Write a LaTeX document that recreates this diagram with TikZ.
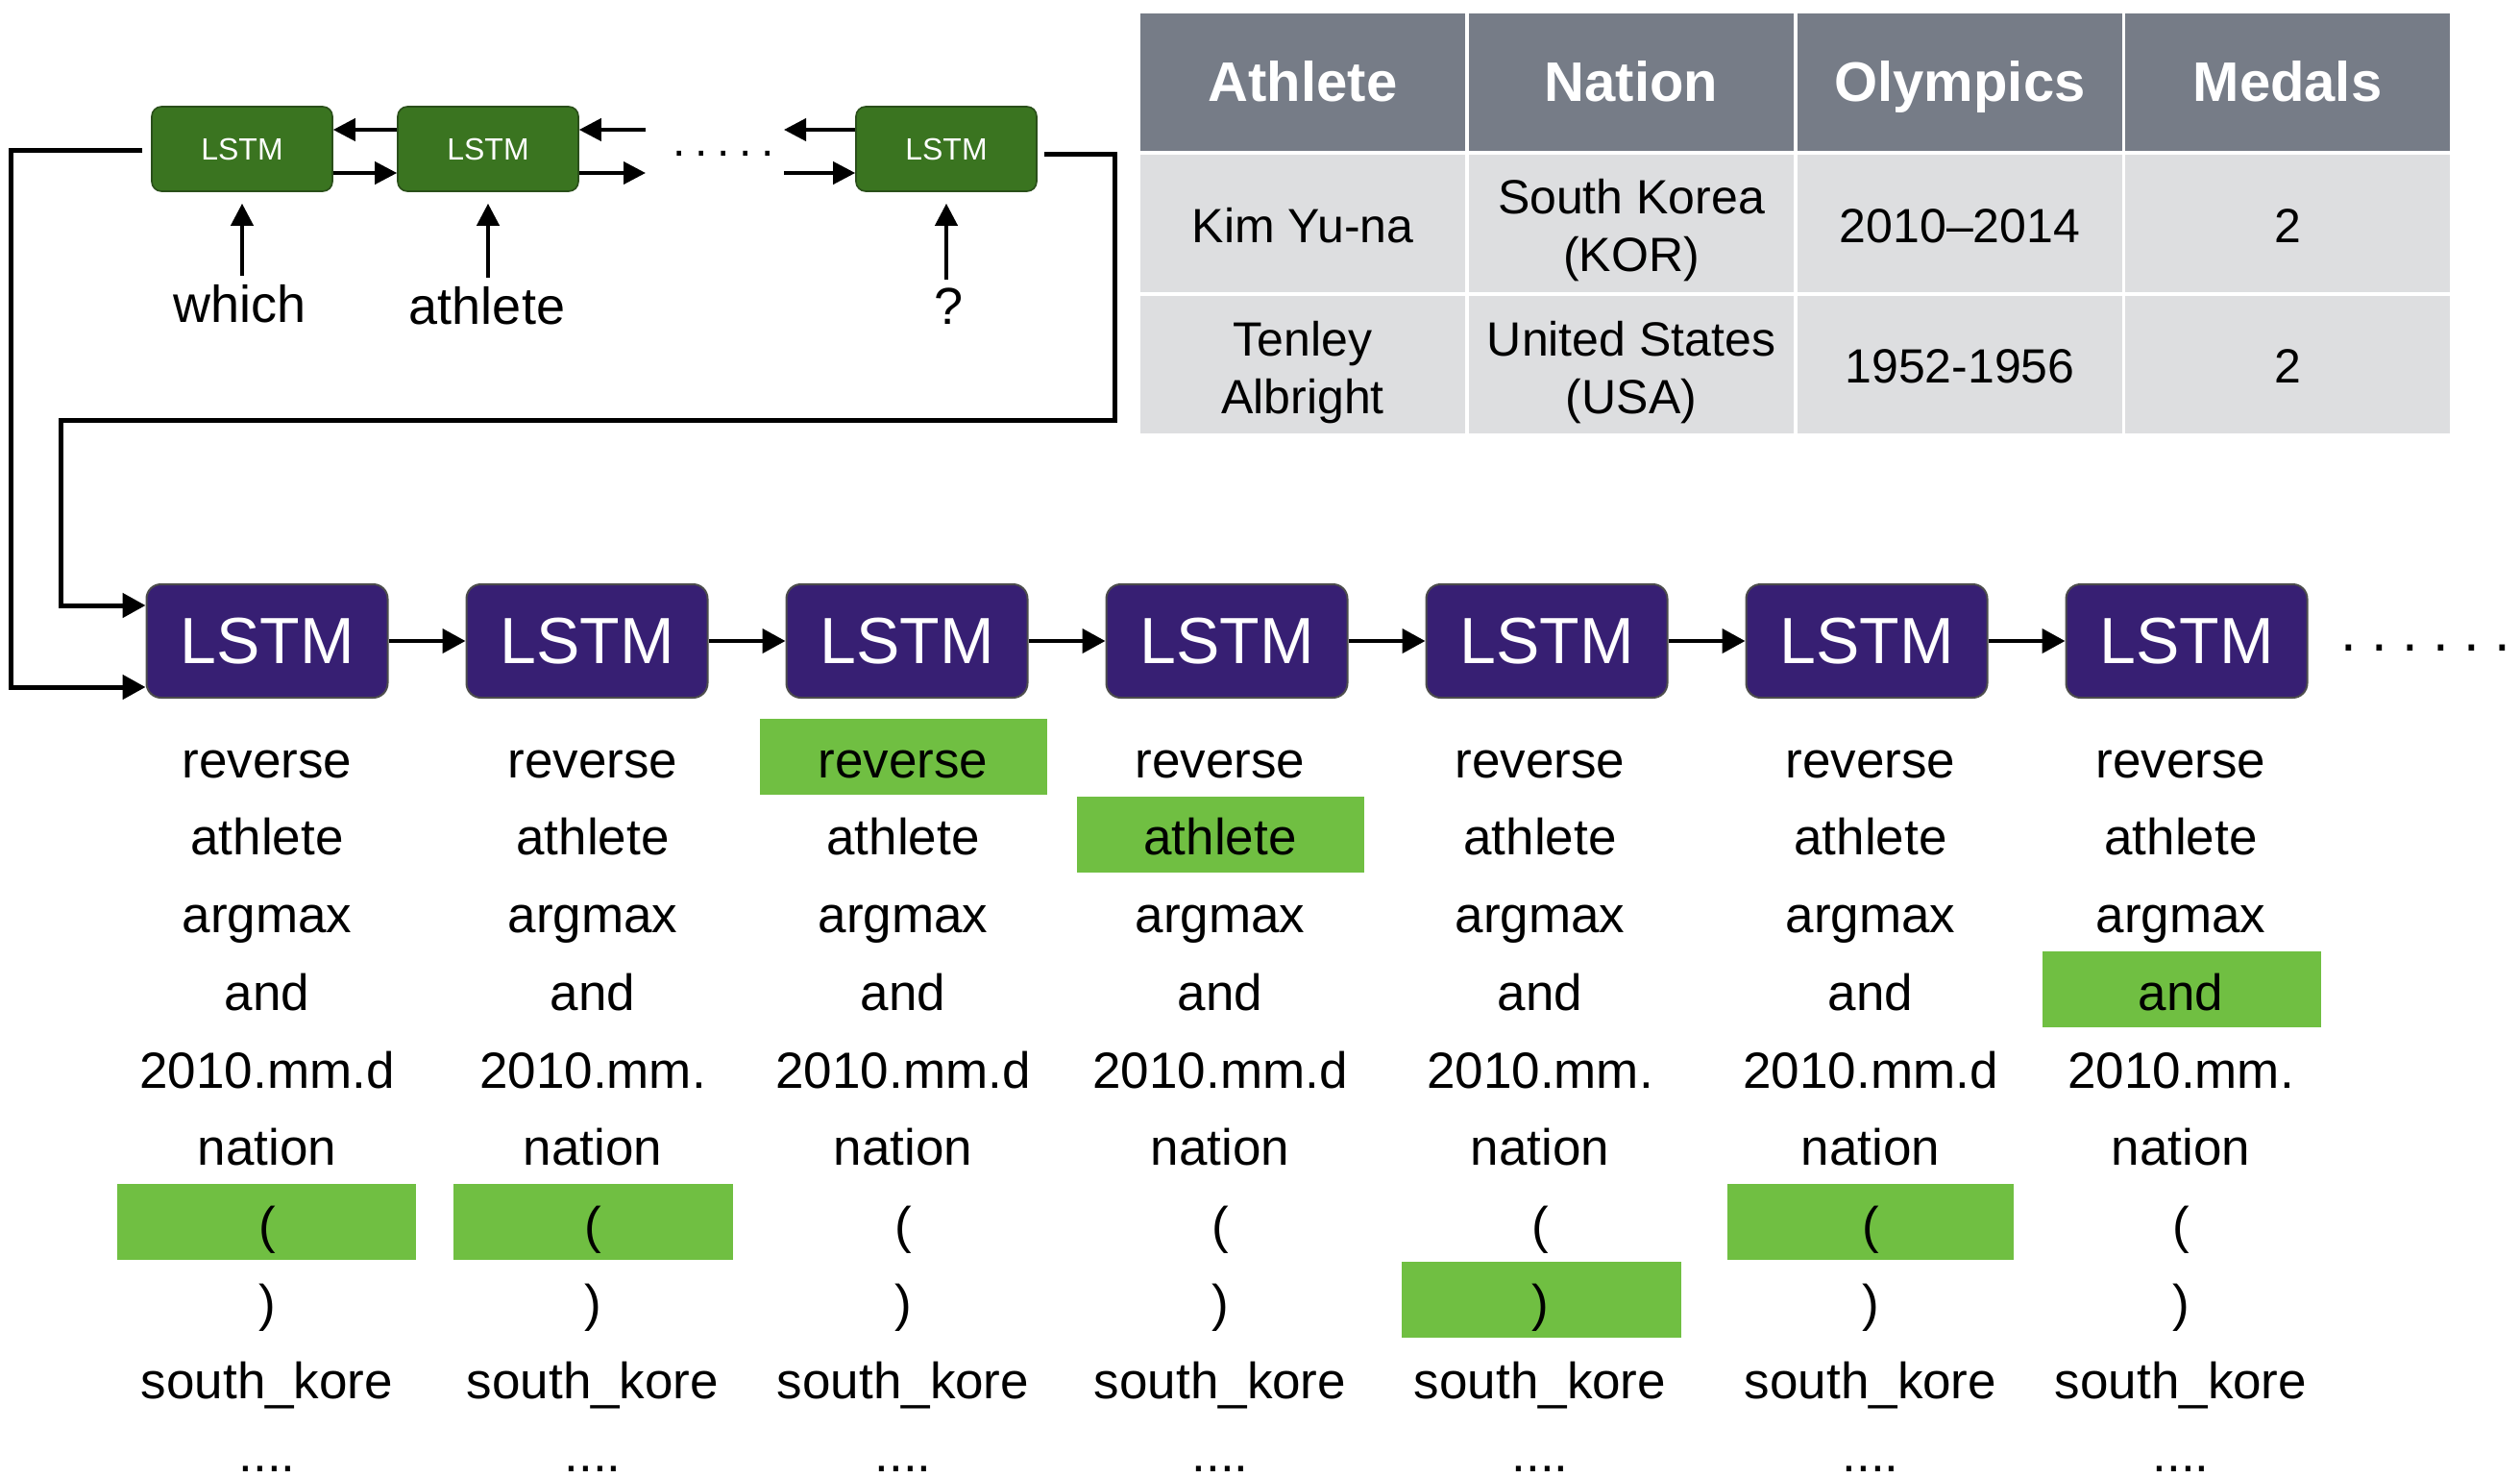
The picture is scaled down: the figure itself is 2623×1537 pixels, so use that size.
\documentclass[tikz,border=0pt]{standalone}
\usepackage{fontspec}
\setmainfont{Liberation Sans}
\usetikzlibrary{arrows.meta}
\definecolor{lstmpurple}{HTML}{371F73}
\definecolor{lstmgreen}{HTML}{3A7420}
\definecolor{lstmgreenb}{HTML}{2A4F1A}
\definecolor{hlgreen}{HTML}{70BF42}
\definecolor{thead}{HTML}{767C87}
\definecolor{tbody}{HTML}{DDDEE0}
\newcommand{\myfourdots}{....}
\begin{document}
\begin{tikzpicture}[x=0.5pt,y=-0.5pt,
  bigbox/.style={draw=black!70, line width=1pt, fill=lstmpurple, rounded corners=7.5pt, minimum width=125.5pt, minimum height=59pt, text=white, font=\fontsize{34}{34}\selectfont, inner sep=0pt},
  smallbox/.style={draw=lstmgreenb, line width=0.8pt, fill=lstmgreen, rounded corners=5pt, minimum width=94pt, minimum height=44pt, text=white, font=\fontsize{16}{16}\selectfont, inner sep=0pt},
  word/.style={anchor=base, inner sep=0pt, font=\fontsize{26.5}{30}\selectfont},
  qword/.style={anchor=base, inner sep=0pt, font=\fontsize{27}{30}\selectfont},
  hl/.style={fill=hlgreen, inner sep=0pt, minimum height=39.5pt},
  arr/.style={line width=2.2pt, -{Triangle[length=12pt,width=12.5pt]}},
  looparr/.style={line width=2.5pt, -{Triangle[length=12pt,width=12.5pt]}},
  sarr/.style={line width=2pt, -{Triangle[length=11.5pt,width=11.5pt]}},
  tcell/.style={draw=white, line width=1.5pt, minimum width=170.5pt, minimum height=73pt, inner sep=0pt},
  thtext/.style={anchor=base, inner sep=0pt, text=white, font=\bfseries\fontsize{29}{30}\selectfont},
  tdtext/.style={anchor=base, inner sep=0pt, font=\fontsize{25}{30}\selectfont},
]
\useasboundingbox (0,0) rectangle (2623,1537);

% ---- table ----
\foreach \k/\cx in {1/1356,2/1698,3/2040,4/2381}{
  \node[tcell, fill=thead] (th\k) at (\cx,85) {};
  \node[tcell, fill=tbody] (ra\k) at (\cx,232) {};
  \node[tcell, fill=tbody] (rb\k) at (\cx,379) {};
}
\node[thtext] (tht1) at (1356,105) {Athlete};
\node[thtext] (tht2) at (1698,105) {Nation};
\node[thtext] (tht3) at (2040,105) {Olympics};
\node[thtext] (tht4) at (2381,105) {Medals};
\node[tdtext] (t11) at (1356,252) {Kim Yu-na};
\node[tdtext] (t12a) at (1698,222) {South Korea};
\node[tdtext] (t12b) at (1698,282) {(KOR)};
\node[tdtext] (t13) at (2040,252) {2010--2014};
\node[tdtext] (t14) at (2381,252) {2};
\node[tdtext] (t21a) at (1356,370) {Tenley};
\node[tdtext] (t21b) at (1356,430) {Albright};
\node[tdtext] (t22a) at (1698,370) {United States};
\node[tdtext] (t22b) at (1698,430) {(USA)};
\node[tdtext] (t23) at (2040,398) {1952-1956};
\node[tdtext] (t24) at (2381,398) {2};

% ---- question encoder ----
\node[smallbox] (s1) at (252,155) {LSTM};
\node[smallbox] (s2) at (508,155) {LSTM};
\node[smallbox] (s3) at (985,155) {LSTM};
\coordinate (c1) at (672,135);
\coordinate (c2) at (672,180);
\coordinate (c3) at (816,135);
\coordinate (c4) at (816,180);
\draw[sarr] (s2.west |- c1) -- (s1.east |- c1);
\draw[sarr] (s1.east |- c2) -- (s2.west |- c2);
\draw[sarr] (c1) -- (s2.east |- c1);
\draw[sarr] (s2.east |- c2) -- (c2);
\draw[sarr] (s3.west |- c3) -- (c3);
\draw[sarr] (c4) -- (s3.west |- c4);
\node[anchor=base west, inner sep=0pt, font=\fontsize{24}{24}\selectfont] (tdots) at (700,162) {.\hspace{4.9pt}.\hspace{4.9pt}.\hspace{4.9pt}.\hspace{4.9pt}.};

\node[qword] (q1) at (250,335) {which};
\node[qword] (q2) at (507,337) {athlete};
\node[qword] (q3) at (988,337) {?};
\draw[sarr, shorten <=4pt, shorten >=6pt] (q1.north -| s1.south) -- (s1.south);
\draw[sarr, shorten <=4pt, shorten >=6pt] (q2.north -| s2.south) -- (s2.south);
\draw[sarr, shorten <=4pt, shorten >=6pt] (q3.north -| s3.south) -- (s3.south);

% ---- decoder ----
\foreach \i in {1,2,3,4,5,6,7}{
  \node[bigbox] (b\i) at ({278+333*(\i-1)},667) {LSTM};
}
\foreach \i/\j in {1/2,2/3,3/4,4/5,5/6,6/7}{
  \draw[arr] (b\i.east) -- (b\j.west);
}
\node[anchor=base west, inner sep=0pt, font=\fontsize{30}{30}\selectfont] (bdots) at (2436,677) {.\hspace{7.7pt}.\hspace{7.7pt}.\hspace{7.7pt}.\hspace{7.7pt}.\hspace{7.7pt}.};

% ---- loop connectors ----
\coordinate (la) at (11,156);
\coordinate (lb) at (11,715);
\draw[looparr] ([shift={(-9,1)}]s1.west) -- (la) -- (lb) -- (lb -| b1.west);
\coordinate (ra) at (1160,160);
\coordinate (rb) at (1160,437);
\coordinate (rc) at (63,437);
\coordinate (rd) at (63,630);
\draw[looparr] ([shift={(7,5)}]s3.east) -- (ra) -- (rb) -- (rc) -- (rd) -- (rd -| b1.west);

% ---- highlights ----
\node[hl, minimum width=149.5pt] (h3) at (940,787) {};
\node[hl, minimum width=149.5pt] (h4) at (1270,868) {};
\node[hl, minimum width=145pt] (h7) at (2271,1029) {};
\node[hl, minimum width=155.5pt] (h1) at (277,1271) {};
\node[hl, minimum width=145.5pt] (h2) at (617,1271) {};
\node[hl, minimum width=145.5pt] (h5) at (1604,1352) {};
\node[hl, minimum width=149pt] (h6) at (1947,1271) {};

% ---- word columns ----
\foreach \col/\xx/\dd in {1/278/{2010.mm.d}, 2/617/{2010.mm.}, 3/940/{2010.mm.d}, 4/1270/{2010.mm.d}, 5/1603/{2010.mm.}, 6/1947/{2010.mm.d}, 7/2270/{2010.mm.}}{
  \foreach \r/\w in {0/reverse, 1/athlete, 2/argmax, 3/and, 4/{\dd}, 5/nation, 6/{(}, 7/{)}, 8/{south\_kore}}{
    \node[word] (w\col-\r) at (\xx,{809+80.75*\r}) {\w};
  }
  \node[word] (w\col-9) at (\xx,1531) {\myfourdots};
}
\end{tikzpicture}
\end{document}
